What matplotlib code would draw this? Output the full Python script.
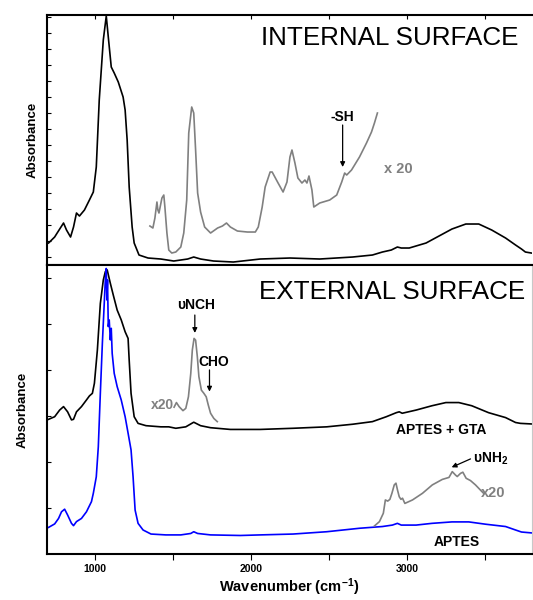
import matplotlib.pyplot as plt
import numpy as np

plt.rcParams['font.family'] = ['Liberation Sans', 'DejaVu Sans']
plt.rcParams['mathtext.fontset'] = 'custom'
plt.rcParams['mathtext.rm'] = 'Liberation Sans:bold'
plt.rcParams['mathtext.it'] = 'Liberation Sans:bold'
plt.rcParams['mathtext.bf'] = 'Liberation Sans:bold'

# internal surface spectrum
wn_int = [700, 739, 752, 796, 815, 841, 860, 879, 898, 930, 962, 987, 1006, 1025,
          1051, 1070, 1083, 1102, 1121, 1147, 1178, 1191, 1204, 1217, 1236, 1249,
          1280, 1338, 1420, 1503, 1592, 1631, 1675, 1758, 1885, 2057, 2248, 2439,
          2650, 2777, 2841, 2898, 2937, 2962, 3013, 3121, 3204, 3287, 3376, 3459,
          3542, 3631, 3695, 3733, 3758, 3796]
abs_int = [0.088, 0.112, 0.125, 0.168, 0.14, 0.112, 0.152, 0.208, 0.196, 0.22, 0.26,
           0.292, 0.392, 0.66, 0.90, 0.996, 0.912, 0.792, 0.768, 0.732, 0.672, 0.62,
           0.5, 0.312, 0.152, 0.088, 0.04, 0.028, 0.024, 0.016, 0.024, 0.032, 0.024,
           0.016, 0.012, 0.024, 0.028, 0.024, 0.032, 0.04, 0.052, 0.06, 0.072, 0.068,
           0.068, 0.088, 0.116, 0.144, 0.164, 0.164, 0.14, 0.108, 0.08, 0.064, 0.052,
           0.048]

# internal surface, x20 zoom
wn_int_x20 = [1350, 1369, 1382, 1395, 1401, 1408, 1427, 1439, 1446, 1459, 1471, 1490,
              1516, 1548, 1567, 1586, 1599, 1618, 1631, 1643, 1656, 1675, 1701, 1739,
              1784, 1815, 1841, 1866, 1911, 1975, 2026, 2045, 2070, 2089, 2121, 2134,
              2172, 2204, 2229, 2248, 2261, 2280, 2299, 2325, 2344, 2357, 2370, 2389,
              2401, 2439, 2503, 2548, 2580, 2599, 2612, 2643, 2694, 2739, 2771, 2790,
              2809]
abs_int_x20 = [0.156, 0.148, 0.188, 0.252, 0.22, 0.208, 0.268, 0.28, 0.232, 0.128,
               0.06, 0.048, 0.052, 0.072, 0.128, 0.26, 0.528, 0.632, 0.608, 0.46,
               0.288, 0.212, 0.152, 0.128, 0.148, 0.156, 0.168, 0.152, 0.136, 0.132,
               0.132, 0.152, 0.232, 0.312, 0.372, 0.372, 0.328, 0.292, 0.332, 0.432,
               0.46, 0.408, 0.348, 0.328, 0.34, 0.328, 0.356, 0.3, 0.232, 0.248, 0.26,
               0.28, 0.332, 0.368, 0.36, 0.38, 0.432, 0.488, 0.532, 0.568, 0.608]

# external surface, APTES + GTA
wn_gta = [700, 739, 771, 796, 822, 847, 860, 879, 911, 943, 962, 981, 994, 1013, 1032,
          1051, 1064, 1076, 1096, 1115, 1140, 1166, 1191, 1210, 1217, 1229, 1249, 1274,
          1325, 1420, 1471, 1516, 1580, 1631, 1675, 1739, 1866, 2057, 2268, 2484, 2650,
          2777, 2866, 2930, 2949, 2968, 3057, 3159, 3248, 3331, 3414, 3522, 3631, 3695,
          3726, 3796]
abs_gta = [0.466, 0.475, 0.498, 0.51, 0.492, 0.464, 0.466, 0.492, 0.51, 0.533, 0.547,
           0.556, 0.591, 0.706, 0.867, 0.948, 0.977, 0.983, 0.937, 0.896, 0.844, 0.81,
           0.769, 0.746, 0.671, 0.556, 0.475, 0.452, 0.444, 0.44, 0.44, 0.435, 0.44,
           0.456, 0.444, 0.437, 0.431, 0.431, 0.435, 0.44, 0.449, 0.458, 0.475, 0.489,
           0.492, 0.487, 0.498, 0.513, 0.524, 0.524, 0.513, 0.489, 0.472, 0.455, 0.452,
           0.45]

wn_gta_x20 = [1505, 1520, 1537, 1562, 1580, 1597, 1612, 1622, 1633, 1643, 1654, 1664,
              1680, 1696, 1711, 1724, 1739, 1760, 1782]
abs_gta_x20 = [0.508, 0.524, 0.51, 0.496, 0.504, 0.544, 0.625, 0.706, 0.746, 0.74,
               0.683, 0.614, 0.567, 0.556, 0.544, 0.516, 0.487, 0.469, 0.458]

# external surface, APTES
wn_aptes = [700, 739, 764, 783, 803, 822, 847, 860, 879, 911, 943, 975, 987, 1006, 1019,
            1032, 1045, 1057, 1064, 1070, 1074, 1078, 1083, 1089, 1096, 1102, 1108, 1121,
            1140, 1166, 1191, 1210, 1229, 1242, 1255, 1274, 1306, 1357, 1452, 1548, 1612,
            1631, 1656, 1739, 1930, 2057, 2268, 2484, 2694, 2841, 2905, 2937, 2962, 3057,
            3159, 3287, 3395, 3503, 3631, 3695, 3733, 3796]
abs_aptes = [0.092, 0.104, 0.123, 0.146, 0.155, 0.135, 0.106, 0.098, 0.112, 0.123,
             0.146, 0.181, 0.21, 0.267, 0.371, 0.556, 0.729, 0.867, 0.948, 0.988, 0.879,
             0.948, 0.787, 0.81, 0.741, 0.781, 0.694, 0.625, 0.579, 0.533, 0.475, 0.418,
             0.36, 0.267, 0.152, 0.106, 0.083, 0.069, 0.066, 0.066, 0.071, 0.077, 0.071,
             0.066, 0.064, 0.066, 0.069, 0.077, 0.089, 0.095, 0.1, 0.106, 0.1, 0.1, 0.106,
             0.111, 0.111, 0.103, 0.095, 0.083, 0.076, 0.073]

wn_aptes_x20 = [2790, 2822, 2847, 2860, 2875, 2889, 2902, 2917, 2928, 2938, 2949, 2960,
                2970, 2985, 3034, 3098, 3161, 3225, 3268, 3289, 3310, 3321, 3342, 3357,
                3378, 3406, 3438, 3470, 3490]
abs_aptes_x20 = [0.097, 0.112, 0.141, 0.187, 0.183, 0.189, 0.21, 0.239, 0.245, 0.221,
                 0.198, 0.189, 0.193, 0.175, 0.187, 0.21, 0.239, 0.258, 0.265, 0.285,
                 0.273, 0.268, 0.279, 0.283, 0.262, 0.254, 0.239, 0.221, 0.21]

x_ticks = [1000, 1500, 2000, 2500, 3000, 3500]
x_tick_labels = ['1000', '', '2000', '', '3000', '']

GRAY = '#808080'
BLUE = '#0000ff'

fig = plt.figure(figsize=(5.33, 6), dpi=100)
ax1 = fig.add_axes([0.0882, 0.5583, 0.9098, 0.4167])
ax2 = fig.add_axes([0.0882, 0.0767, 0.9098, 0.4816], sharex=ax1)

ax1.plot(wn_int, abs_int, color='black', lw=1.2)
ax1.plot(wn_int_x20, abs_int_x20, color=GRAY, lw=1.2)

ax2.plot(wn_gta, abs_gta, color='black', lw=1.2)
ax2.plot(wn_gta_x20, abs_gta_x20, color=GRAY, lw=1.2)
ax2.plot(wn_aptes, abs_aptes, color=BLUE, lw=1.2)
ax2.plot(wn_aptes_x20, abs_aptes_x20, color=GRAY, lw=1.2)

ax1.set_ylim(0, 1)
ax2.set_ylim(0, 1)

for ax in (ax1, ax2):
    for s in ('left', 'top', 'bottom'):
        ax.spines[s].set_linewidth(1.5)
ax1.spines['right'].set_visible(False)
ax2.spines['right'].set_color('#c8c8c8')
ax2.spines['right'].set_linewidth(0.8)

# top panel: inward ticks on the left and on the top
ax1.set_yticks(np.arange(0.032, 1.0, 0.064))
ax1.tick_params(axis='y', direction='in', length=3, width=0.8, labelleft=False)
ax1.tick_params(axis='x', which='both', bottom=False, top=True, direction='in',
                length=3, width=0.8, labelbottom=False, labeltop=False)

# bottom panel
ax2.set_yticks(np.arange(0.159, 1.0, 0.159))
ax2.tick_params(axis='y', direction='in', length=3, width=0.8, labelleft=False)
ax2.set_xticks(x_ticks)
ax2.set_xticklabels(x_tick_labels)
ax2.tick_params(axis='x', direction='out', length=4, width=0.8, labelsize=7.5, pad=3.5)
for lbl in ax2.get_xticklabels():
    lbl.set_fontweight('bold')
ax1.set_xlim(690, 3800)

ax1.set_ylabel('Absorbance', fontsize=9.5, fontweight='bold', labelpad=6)
ax2.set_ylabel('Absorbance', fontsize=9.5, fontweight='bold', labelpad=13)
ax2.set_xlabel('Wavenumber (cm$^{-1}$)', fontsize=10.5, fontweight='bold', labelpad=1.5)

# panel titles
ax1.text(2885, 0.908, 'INTERNAL SURFACE', fontsize=18.7, ha='center', va='center')
ax2.text(2905, 0.907, 'EXTERNAL SURFACE', fontsize=18.7, ha='center', va='center')

arrow = dict(arrowstyle='-|>', color='black', lw=0.9, mutation_scale=7,
             shrinkA=0, shrinkB=0)

# top panel annotations
ax1.text(2586, 0.592, '-SH', fontsize=10, fontweight='bold', ha='center', va='center')
ax1.annotate('', xy=(2586, 0.392), xytext=(2586, 0.56), arrowprops=arrow)
ax1.text(2854, 0.384, 'x 20', fontsize=10.5, fontweight='bold', color=GRAY,
         ha='left', va='center')

# bottom panel annotations
ax2.text(1505, 0.516, 'x20', fontsize=10, fontweight='bold', color=GRAY,
         ha='right', va='center')
ax2.text(1643, 0.862, 'υNCH', fontsize=10, fontweight='bold', ha='center', va='center')
ax2.annotate('', xy=(1638, 0.765), xytext=(1638, 0.827), arrowprops=arrow)
ax2.text(1760, 0.665, 'CHO', fontsize=10, fontweight='bold', ha='center', va='center')
ax2.annotate('', xy=(1732, 0.562), xytext=(1732, 0.637), arrowprops=arrow)

ax2.text(3217, 0.429, 'APTES + GTA', fontsize=10, fontweight='bold',
         ha='center', va='center')
ax2.text(3319, 0.042, 'APTES', fontsize=10, fontweight='bold', ha='center', va='center')

ax2.text(3420, 0.331, 'υNH$_2$', fontsize=10, fontweight='bold', ha='left', va='center')
ax2.annotate('', xy=(3285, 0.3), xytext=(3406, 0.329), arrowprops=arrow)
ax2.text(3554, 0.21, 'x20', fontsize=10.5, fontweight='bold', color=GRAY,
         ha='center', va='center')

fig.savefig('out.png', dpi=100)
